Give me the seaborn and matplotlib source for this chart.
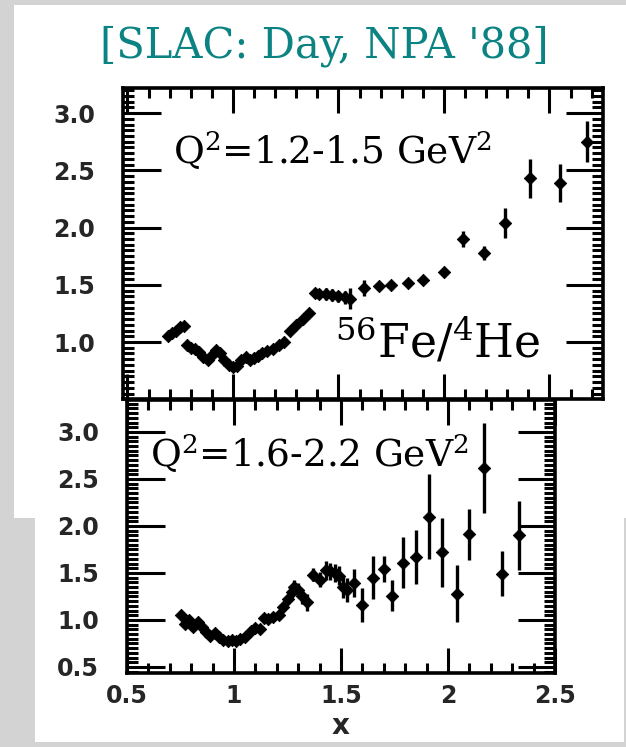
import matplotlib
matplotlib.use("Agg")
import matplotlib.pyplot as plt
import seaborn as sns
import pandas as pd
from matplotlib.patches import Rectangle
from matplotlib.ticker import MultipleLocator

sns.set_style("ticks")
plt.rcParams['font.family'] = ['DejaVu Serif']
plt.rcParams['mathtext.fontset'] = 'dejavuserif'

# ---------------- text ----------------
title_text = "[SLAC: Day, NPA '88]"
top_label = r"Q$^{2}$=1.2-1.5 GeV$^{2}$"
bot_label = r"Q$^{2}$=1.6-2.2 GeV$^{2}$"
ratio_label = r"$^{56}$Fe/$^{4}$He"
x_axis_label = "x"

# ---------------- data: Q^2 = 1.2-1.5 GeV^2 ----------------
top_x = [0.69, 0.71, 0.73, 0.75, 0.77,
         0.78, 0.80, 0.82, 0.84, 0.86, 0.88,
         0.90, 0.92, 0.94,
         0.96, 0.98, 1.00, 1.02,
         1.04, 1.06, 1.08,
         1.10, 1.12, 1.14, 1.16, 1.19, 1.22, 1.24,
         1.27, 1.30, 1.33, 1.36,
         1.39, 1.41, 1.44, 1.47, 1.50, 1.53, 1.555,
         1.62, 1.69, 1.75, 1.83, 1.90,
         2.00, 2.09, 2.19, 2.29, 2.41, 2.55, 2.68]
top_y = [1.05, 1.08, 1.10, 1.13, 1.14,
         0.97, 0.95, 0.94, 0.91, 0.87, 0.84,
         0.89, 0.93, 0.90,
         0.84, 0.80, 0.78, 0.79,
         0.84, 0.87, 0.84,
         0.86, 0.88, 0.90, 0.92, 0.94, 0.97, 1.00,
         1.10, 1.15, 1.20, 1.25,
         1.43, 1.42, 1.42, 1.41, 1.40, 1.39, 1.38,
         1.47, 1.49, 1.50, 1.52, 1.54,
         1.61, 1.90, 1.78, 2.04, 2.43, 2.39, 2.75]
top_err = [0.03] * 32 + [0.04, 0.04, 0.05, 0.05, 0.05, 0.06, 0.09,
                         0.07, 0.03, 0.03, 0.03, 0.03,
                         0.04, 0.07, 0.06, 0.13, 0.17, 0.17, 0.18]

# ---------------- data: Q^2 = 1.6-2.2 GeV^2 ----------------
bot_x = [0.75, 0.77, 0.79, 0.81, 0.83, 0.85,
         0.87, 0.89, 0.91, 0.93,
         0.95, 0.97, 0.99, 1.01, 1.03, 1.05,
         1.08, 1.10, 1.12,
         1.14, 1.16, 1.18, 1.21,
         1.23, 1.25, 1.27, 1.28, 1.30, 1.32, 1.34,
         1.37, 1.40, 1.43, 1.45, 1.47, 1.49,
         1.51, 1.53, 1.56,
         1.60, 1.65, 1.70, 1.74, 1.79, 1.85, 1.91, 1.97,
         2.04, 2.10, 2.17, 2.25, 2.33]
bot_y = [1.05, 0.96, 1.00, 0.93, 0.98, 0.93,
         0.87, 0.83, 0.86, 0.82,
         0.79, 0.78, 0.79, 0.78, 0.80, 0.82,
         0.88, 0.91, 0.90,
         1.02, 1.01, 1.03, 1.05,
         1.14, 1.22, 1.30, 1.35, 1.32, 1.25, 1.19,
         1.48, 1.43, 1.53, 1.52, 1.50, 1.47,
         1.35, 1.32, 1.39,
         1.16, 1.45, 1.54, 1.26, 1.61, 1.67, 2.10, 1.72,
         1.28, 1.91, 2.62, 1.49, 1.90]
bot_err = [0.04] * 23 + [0.05, 0.05, 0.06, 0.07, 0.07, 0.08, 0.09,
                         0.07, 0.08, 0.10, 0.09, 0.10, 0.10,
                         0.12, 0.13, 0.15,
                         0.18, 0.23, 0.14, 0.16, 0.27, 0.29, 0.45, 0.37,
                         0.30, 0.27, 0.48, 0.24, 0.37]

top_yticks = [1.0, 1.5, 2.0, 2.5, 3.0]
bot_yticks = [0.5, 1.0, 1.5, 2.0, 2.5, 3.0]
bot_xticks = [0.5, 1.0, 1.5, 2.0, 2.5]
bot_xticklabels = ["0.5", "1", "1.5", "2", "2.5"]

top_df = pd.DataFrame({"x": top_x, "y": top_y, "err": top_err})
bot_df = pd.DataFrame({"x": bot_x, "y": bot_y, "err": bot_err})

# ---------------- figure ----------------
W, H = 626, 747
fig = plt.figure(figsize=(W / 100, H / 100), dpi=100, facecolor='#d3d3d3')

fig.patches.append(Rectangle((14 / W, 1 - 518 / H), (626 - 14) / W, (518 - 5) / H,
                             transform=fig.transFigure, facecolor='white',
                             edgecolor='none', zorder=-2))
fig.patches.append(Rectangle((35 / W, 1 - 742 / H), (624 - 35) / W, (742 - 517) / H,
                             transform=fig.transFigure, facecolor='white',
                             edgecolor='none', zorder=-2))


def px_axes(l, t, r, b):
    return fig.add_axes([l / W, 1 - b / H, (r - l) / W, (b - t) / H])


tick_font = dict(family='DejaVu Sans', weight='heavy', size=17)


def style(ax, xlim, ylim):
    ax.set_xlim(xlim)
    ax.set_ylim(ylim)
    ax.set_facecolor('white')
    for s in ax.spines.values():
        s.set_visible(True)
        s.set_linewidth(2.6)
        s.set_color('black')
    ax.xaxis.set_major_locator(MultipleLocator(0.5))
    ax.xaxis.set_minor_locator(MultipleLocator(0.1))
    ax.yaxis.set_minor_locator(MultipleLocator(0.05))
    ax.tick_params(which='both', direction='in', top=True, right=True,
                   bottom=True, left=True, color='black')
    ax.tick_params(axis='x', which='major', length=18, width=2.2, pad=8)
    ax.tick_params(axis='x', which='minor', length=7, width=2.2)
    ax.tick_params(axis='y', which='major', length=27, width=2.2, pad=20)
    ax.tick_params(axis='y', which='minor', length=8, width=2.2)
    ax.set_xlabel("")
    ax.set_ylabel("")


def draw(ax, df):
    ax.errorbar(df["x"], df["y"], yerr=df["err"], fmt='none', ecolor='black',
                elinewidth=2.4, capsize=0, zorder=2)
    sns.scatterplot(data=df, x="x", y="y", ax=ax, marker='D', s=40,
                    color='black', edgecolor='black', linewidth=0.6, zorder=3)


# top panel
ax1 = px_axes(123, 88, 603, 399)
draw(ax1, top_df)
style(ax1, (0.479, 2.754), (0.502, 3.22))
ax1.set_yticks(top_yticks)
ax1.set_yticklabels([f"{v:.1f}" for v in top_yticks], fontdict=tick_font)
ax1.tick_params(axis='x', labelbottom=False)

# bottom panel
ax2 = px_axes(127, 400, 555, 673)
draw(ax2, bot_df)
style(ax2, (0.5, 2.5), (0.436, 3.34))
ax2.set_yticks(bot_yticks)
ax2.set_yticklabels([f"{v:.1f}" for v in bot_yticks], fontdict=tick_font)
ax2.set_xticks(bot_xticks)
ax2.set_xticklabels(bot_xticklabels, fontdict=tick_font)
ax2.set_xlabel(x_axis_label, fontdict=dict(family='DejaVu Sans', weight='heavy', size=20),
               labelpad=3)

# text
fig.text(324 / W, 1 - 46 / H, title_text, color='#0b8382', fontsize=30,
         ha='center', va='center', family='DejaVu Serif')
fig.text(173 / W, 1 - 164 / H, top_label, fontsize=27, ha='left', va='baseline',
         color='black')
fig.text(150 / W, 1 - 467 / H, bot_label, fontsize=27, ha='left', va='baseline',
         color='black')
fig.text(335 / W, 1 - 358 / H, ratio_label, fontsize=33, ha='left', va='baseline',
         color='black')

fig.savefig("out.png", dpi=100, facecolor=fig.get_facecolor())
